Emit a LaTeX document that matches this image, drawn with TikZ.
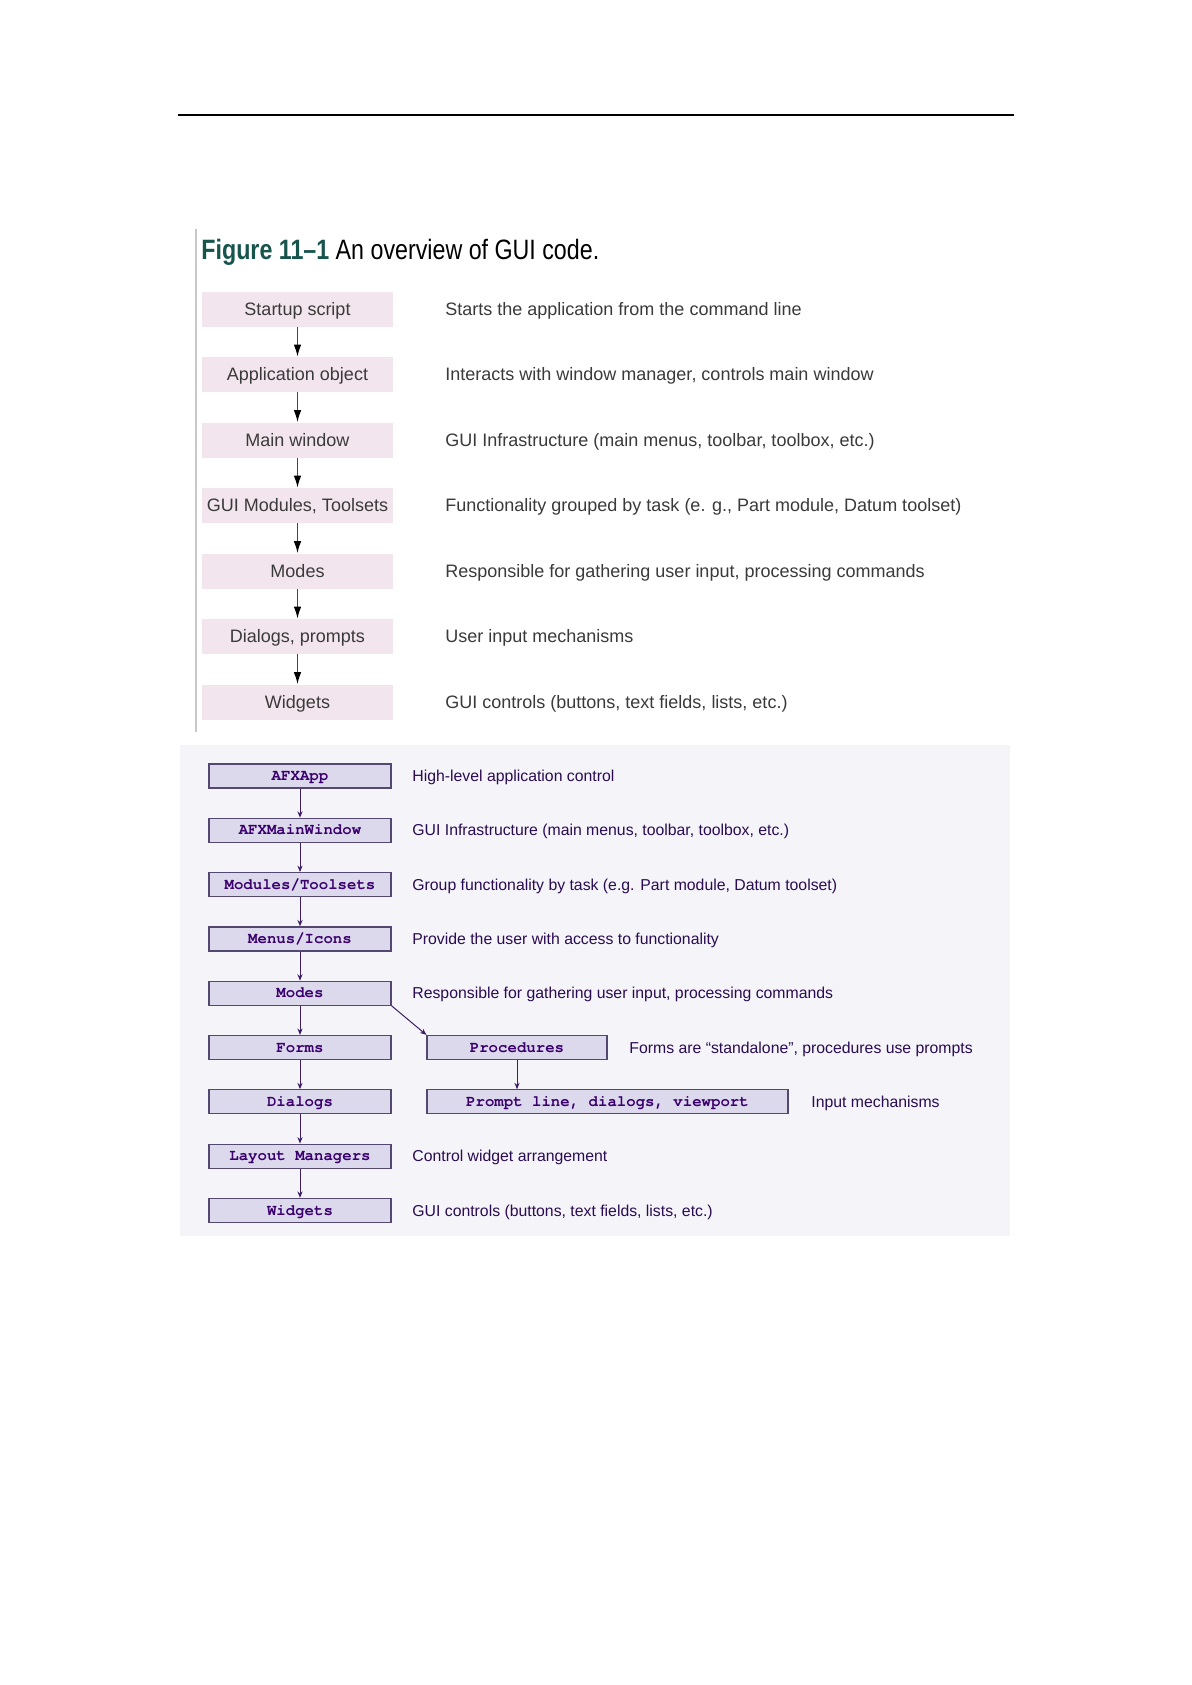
\documentclass[tikz,border=0pt]{standalone}
\usepackage{fontspec}
\setmainfont{Liberation Sans}
\setmonofont{TeX Gyre Cursor}
\newfontfamily\condfont[FakeStretch=0.83]{Liberation Sans}
\usetikzlibrary{arrows.meta}
\definecolor{pinkbox}{RGB}{243,229,237}
\definecolor{toptext}{RGB}{58,58,58}
\definecolor{titlegreen}{RGB}{22,84,76}
\definecolor{rulegray}{RGB}{200,200,200}
\definecolor{panelbg}{RGB}{245,244,249}
\definecolor{lavfill}{RGB}{221,217,237}
\definecolor{boxborder}{RGB}{84,72,112}
\definecolor{boxtext}{RGB}{58,0,110}
\definecolor{desctext}{RGB}{42,12,82}
\definecolor{arrowpurple}{RGB}{60,30,100}
\begin{document}
\begin{tikzpicture}[x=0.5pt,y=-0.5pt,
  topbox/.style={fill=pinkbox, draw=none, minimum width=95.5pt, minimum height=17.5pt,
    inner sep=0pt, font=\fontsize{9}{11}\selectfont, text=toptext, text height=6.45pt, text depth=0pt},
  topdesc/.style={anchor=west, inner sep=0pt, font=\fontsize{9}{11}\selectfont, text=toptext,
    text height=6.45pt, text depth=0pt},
  toparrow/.style={draw={rgb,255:red,70;green,70;blue,70}, line width=0.7pt,
    -{Latex[length=6pt,width=3.8pt,black]}},
  lavbox/.style={fill=lavfill, draw=boxborder, line width=0.6pt, minimum height=12pt,
    inner sep=0pt, font=\ttfamily\bfseries\fontsize{7.85}{9}\selectfont, text=boxtext,
    text height=4.6pt, text depth=0pt},
  botdesc/.style={anchor=west, inner sep=0pt, font=\fontsize{7.9}{9.5}\selectfont, text=desctext,
    text height=5.66pt, text depth=0pt},
  botarrow/.style={draw=arrowpurple, line width=0.5pt, -{Stealth[length=3.2pt,width=2.6pt]}}
]
\useasboundingbox (0,0) rectangle (1191,1685);
\fill[white] (0,0) rectangle (1191,1685);

% page rule and figure margin line
\draw[line width=1.1pt] (178,115) -- (1014,115);
\draw[rulegray, line width=0.8pt] (196,229) -- (196,732);

% title
\node[anchor=base west, inner sep=0pt, font=\condfont\fontsize{14}{16}\selectfont, text=black]
  (title) at (201,259) {\textcolor{titlegreen}{\bfseries Figure 11–1} An overview of GUI code.};

% upper flow
\node[topbox] (t1) at (297.5,309)   {Startup script};
\node[topbox] (t2) at (297.5,374.5) {Application object};
\node[topbox] (t3) at (297.5,440)   {Main window};
\node[topbox] (t4) at (297.5,505.5) {GUI Modules, Toolsets};
\node[topbox] (t5) at (297.5,571)   {Modes};
\node[topbox] (t6) at (297.5,636.5) {Dialogs, prompts};
\node[topbox] (t7) at (297.5,702)   {Widgets};

\node[topdesc] (d1) at (445,309)   {Starts the application from the command line};
\node[topdesc] (d2) at (445,374.5) {Interacts with window manager, controls main window};
\node[topdesc] (d3) at (445,440)   {GUI Infrastructure (main menus, toolbar, toolbox, etc.)};
\node[topdesc] (d4) at (445,505.5) {Functionality grouped by task (e. g., Part module, Datum toolset)};
\node[topdesc] (d5) at (445,571)   {Responsible for gathering user input, processing commands};
\node[topdesc] (d6) at (445,636.5) {User input mechanisms};
\node[topdesc] (d7) at (445,702)   {GUI controls (buttons, text fields, lists, etc.)};

\foreach \a/\b in {t1/t2,t2/t3,t3/t4,t4/t5,t5/t6,t6/t7}
  \draw[toparrow] (\a) -- (\b);

% lower panel
\fill[panelbg] (180,745) rectangle (1010,1236);

\node[lavbox, minimum width=91pt] (b1) at (300,776)    {AFXApp};
\node[lavbox, minimum width=91pt] (b2) at (300,830.3)  {AFXMainWindow};
\node[lavbox, minimum width=91pt] (b3) at (300,884.6)  {Modules/Toolsets};
\node[lavbox, minimum width=91pt] (b4) at (300,938.9)  {Menus/Icons};
\node[lavbox, minimum width=91pt] (b5) at (300,993.2)  {Modes};
\node[lavbox, minimum width=91pt] (b6) at (300,1047.5) {Forms};
\node[lavbox, minimum width=91pt] (b7) at (300,1101.8) {Dialogs};
\node[lavbox, minimum width=91pt] (b8) at (300,1156.1) {Layout Managers};
\node[lavbox, minimum width=91pt] (b9) at (300,1210.4) {Widgets};
\node[lavbox, minimum width=90pt] (proc) at (517,1047.5) {Procedures};
\node[lavbox, minimum width=180.5pt] (prompt) at (607.5,1101.8) {Prompt line, dialogs, viewport};

\node[botdesc] (e1) at (412,776)    {High-level application control};
\node[botdesc] (e2) at (412,830.3)  {GUI Infrastructure (main menus, toolbar, toolbox, etc.)};
\node[botdesc] (e3) at (412,884.6)  {Group functionality by task (e.g. Part module, Datum toolset)};
\node[botdesc] (e4) at (412,938.9)  {Provide the user with access to functionality};
\node[botdesc] (e5) at (412,993.2)  {Responsible for gathering user input, processing commands};
\node[botdesc] (e6) at (629,1047.5) {Forms are “standalone”, procedures use prompts};
\node[botdesc] (e7) at (811,1101.8) {Input mechanisms};
\node[botdesc] (e8) at (412,1156.1) {Control widget arrangement};
\node[botdesc] (e9) at (412,1210.4) {GUI controls (buttons, text fields, lists, etc.)};

\foreach \a/\b in {b1/b2,b2/b3,b3/b4,b4/b5,b5/b6,b6/b7,b7/b8,b8/b9}
  \draw[botarrow] (\a) -- (\b);
\draw[botarrow] (b5.south east) -- (proc.north west);
\draw[botarrow] (proc.south) -- (proc.south |- prompt.north);
\end{tikzpicture}
\end{document}
